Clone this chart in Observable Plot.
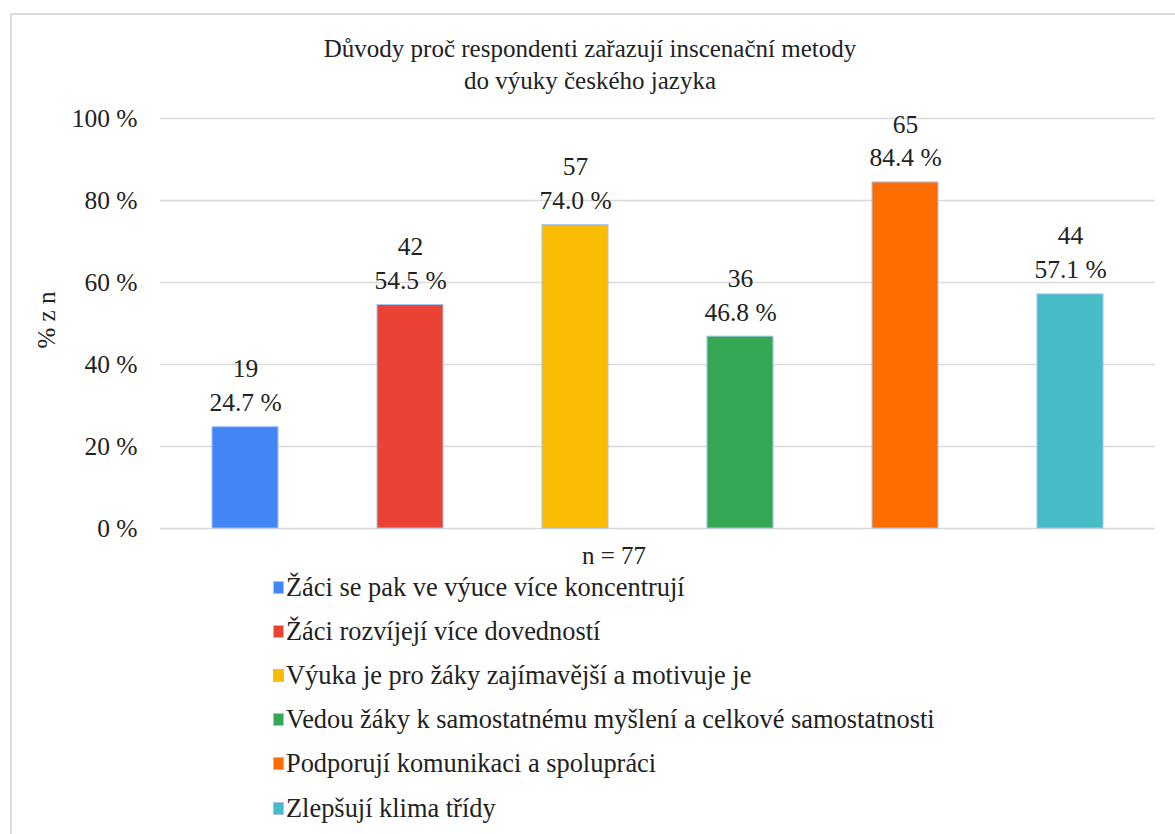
<!DOCTYPE html>
<html>
<head>
<meta charset="utf-8">
<script src="https://cdn.jsdelivr.net/npm/d3@7"></script>
<script src="https://cdn.jsdelivr.net/npm/@observablehq/plot@0.6"></script>
<style>
  html, body { margin: 0; padding: 0; background: #fff; overflow: hidden; font-family: 'Liberation Serif', serif; }
  .wrap { position: relative; width: 1175px; height: 834px; overflow: hidden; color: #1a1a1a; font-family: 'Liberation Serif', serif; }
  .frame { position: absolute; left: 10px; top: 13px; width: 1300px; height: 1000px; border: 2px solid #dcdcdc; box-sizing: border-box; }
  .chart { position: absolute; left: 0; top: 0; }
  .title { position: absolute; left: 240px; width: 700px; top: 33px; text-align: center; font-size: 25px; line-height: 32px; color: #222; }
  .ylabel { position: absolute; left: 47px; top: 320px; transform: translate(-50%, -50%) rotate(-90deg); font-size: 25px; white-space: nowrap; color: #222; }
  .nlabel { position: absolute; left: 614px; top: 556px; transform: translate(-50%, -50%); font-size: 25px; white-space: nowrap; color: #222; }
  .legend { position: absolute; left: 273px; top: 565px; font-size: 26.4px; color: #222; }
  .item { display: flex; align-items: center; height: 44.2px; white-space: nowrap; }
  .sw { width: 9px; height: 11px; border: 1px solid #a4c2f4; margin-right: 2px; flex: none; }
</style>
</head>
<body>
<div class="wrap">
  <div class="frame"></div>
  <div class="chart" id="chart"></div>
  <div class="title">Důvody proč respondenti zařazují inscenační metody<br>do výuky českého jazyka</div>
  <div class="ylabel">% z n</div>
  <div class="nlabel">n = 77</div>
  <div class="legend" id="legend"></div>
</div>
<script>
const categories = [
  "Žáci se pak ve výuce více koncentrují",
  "Žáci rozvíjejí více dovedností",
  "Výuka je pro žáky zajímavější a motivuje je",
  "Vedou žáky k samostatnému myšlení a celkové samostatnosti",
  "Podporují komunikaci a spolupráci",
  "Zlepšují klima třídy"
];
const counts = [19, 42, 57, 36, 65, 44];
const percents = [24.7, 54.5, 74.0, 46.8, 84.4, 57.1];
const colors = ["#4285f4", "#ea4335", "#fbbc04", "#34a853", "#ff6d01", "#46bdc6"];
const yTicks = [0, 20, 40, 60, 80, 100];

const data = categories.map((c, i) => ({
  cat: c, count: counts[i], pct: percents[i], color: colors[i],
  label: counts[i] + "\n" + percents[i].toFixed(1) + " %"
}));

const serif = "'Liberation Serif', serif";

const chart = Plot.plot({
  width: 1175,
  height: 560,
  marginTop: 118,
  marginBottom: 32,
  marginLeft: 160,
  marginRight: 20,
  style: { fontFamily: serif, fontSize: "25px", color: "#222", background: "transparent" },
  x: { domain: categories, paddingInner: 0.6, paddingOuter: 0.3, axis: null },
  y: { domain: [0, 100], ticks: yTicks, label: null },
  marks: [
    Plot.ruleY(yTicks, { stroke: "#d9d9d9", strokeWidth: 1.5, strokeOpacity: 1 }),
    Plot.axisY(yTicks, { tickSize: 0, tickPadding: 23, tickFormat: d => d + " %", fontSize: 25.5, label: null }),
    Plot.barY(data, { x: "cat", y: "pct", fill: "color", stroke: "#a4c2f4", strokeWidth: 1 }),
    Plot.text(data, { x: "cat", y: "pct", text: "label", lineAnchor: "bottom", dy: -16, lineHeight: 1.33, fontSize: 25.5, fill: "#222" })
  ]
});
document.getElementById("chart").appendChild(chart);

const legend = document.getElementById("legend");
categories.forEach((c, i) => {
  const row = document.createElement("div");
  row.className = "item";
  const sw = document.createElement("span");
  sw.className = "sw";
  sw.style.background = colors[i];
  const t = document.createElement("span");
  t.textContent = c;
  row.appendChild(sw);
  row.appendChild(t);
  legend.appendChild(row);
});
</script>
</body>
</html>
